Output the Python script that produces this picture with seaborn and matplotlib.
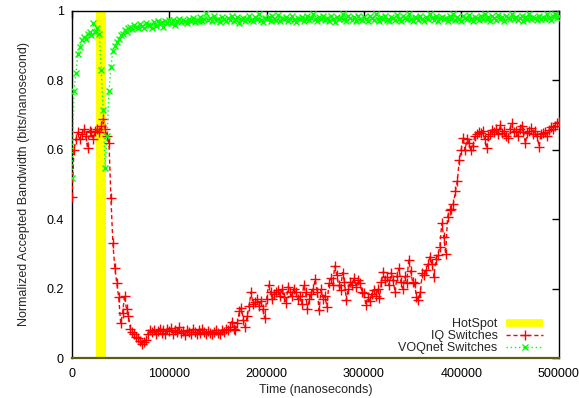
import numpy as np
import pandas as pd
import matplotlib
matplotlib.use("Agg")
import matplotlib.pyplot as plt
from matplotlib.lines import Line2D
import seaborn as sns

# Sampling times (ns)
time_ns = np.arange(0, 500001, 2000)

# Hot-spot interval (ns)
hotspot_start = 25000
hotspot_end = 35000

# Normalized accepted bandwidth, IQ switches
iq_bw = [
    0.465, 0.60, 0.63, 0.65, 0.63, 0.645, 0.66, 0.64, 0.605, 0.655,
    0.65, 0.63, 0.655, 0.66, 0.65, 0.67, 0.69, 0.66, 0.64, 0.62,
    0.46, 0.33, 0.26, 0.215, 0.175, 0.10, 0.13, 0.18, 0.14, 0.12,
    0.085, 0.075, 0.07, 0.06, 0.058, 0.05, 0.04, 0.045, 0.052, 0.07,
    0.08, 0.075, 0.082, 0.07, 0.078, 0.085, 0.072, 0.08, 0.068, 0.083,
    0.077, 0.086, 0.07, 0.08, 0.074, 0.088, 0.072, 0.078, 0.065, 0.08,
    0.076, 0.07, 0.083, 0.075, 0.068, 0.08, 0.072, 0.085, 0.074, 0.07,
    0.078, 0.072, 0.068, 0.076, 0.08, 0.073, 0.07, 0.082, 0.075, 0.085,
    0.08, 0.09, 0.105, 0.085, 0.08, 0.10, 0.135, 0.145, 0.11, 0.09,
    0.12, 0.15, 0.19, 0.155, 0.16, 0.17, 0.15, 0.165, 0.14, 0.115,
    0.17, 0.21, 0.19, 0.17, 0.185, 0.19, 0.195, 0.18, 0.20, 0.175,
    0.158, 0.205, 0.19, 0.18, 0.20, 0.19, 0.17, 0.18, 0.155, 0.21,
    0.19, 0.14, 0.17, 0.185, 0.20, 0.227, 0.19, 0.138, 0.198, 0.17,
    0.18, 0.146, 0.217, 0.23, 0.21, 0.265, 0.24, 0.21, 0.196, 0.246,
    0.22, 0.167, 0.20, 0.22, 0.21, 0.23, 0.205, 0.225, 0.215, 0.19,
    0.186, 0.153, 0.175, 0.165, 0.185, 0.196, 0.18, 0.20, 0.172, 0.22,
    0.249, 0.225, 0.234, 0.21, 0.246, 0.225, 0.19, 0.235, 0.258, 0.22,
    0.20, 0.235, 0.215, 0.282, 0.25, 0.22, 0.215, 0.177, 0.167, 0.19,
    0.244, 0.24, 0.255, 0.27, 0.292, 0.27, 0.234, 0.285, 0.297, 0.32,
    0.388, 0.35, 0.30, 0.407, 0.427, 0.43, 0.445, 0.48, 0.51, 0.57,
    0.60, 0.633, 0.60, 0.63, 0.62, 0.60, 0.61, 0.64, 0.645, 0.652,
    0.648, 0.655, 0.63, 0.604, 0.64, 0.645, 0.657, 0.65, 0.66, 0.645,
    0.671, 0.648, 0.655, 0.64, 0.633, 0.66, 0.676, 0.65, 0.655, 0.64,
    0.66, 0.67, 0.65, 0.619, 0.648, 0.655, 0.662, 0.645, 0.655, 0.64,
    0.609, 0.645, 0.648, 0.65, 0.64, 0.657, 0.667, 0.66, 0.67, 0.676,
    0.68,
]

# Normalized accepted bandwidth, VOQnet switches
voq_bw = [
    0.518, 0.77, 0.82, 0.875, 0.895, 0.915, 0.926, 0.92, 0.935, 0.94,
    0.93, 0.964, 0.94, 0.95, 0.935, 0.83, 0.715, 0.547, 0.64, 0.77,
    0.84, 0.885, 0.90, 0.912, 0.92, 0.93, 0.935, 0.945, 0.94, 0.95,
    0.955, 0.948, 0.96, 0.955, 0.95, 0.962, 0.958, 0.95, 0.965, 0.96,
    0.96, 0.952, 0.968, 0.958, 0.97, 0.962, 0.969, 0.955, 0.972, 0.965,
    0.974, 0.966, 0.975, 0.96, 0.97, 0.978, 0.968, 0.975, 0.972, 0.965,
    0.976, 0.97, 0.98, 0.968, 0.975, 0.972, 0.982, 0.97, 0.978, 0.993,
    0.975, 0.98, 0.97, 0.985, 0.975, 0.978, 0.968, 0.982, 0.976, 0.972,
    0.98, 0.975, 0.985, 0.97, 0.978, 0.982, 0.965, 0.976, 0.98, 0.972,
    0.978, 0.985, 0.975, 0.97, 0.982, 0.978, 0.99, 0.975, 0.968, 0.98,
    0.976, 0.982, 0.97, 0.985, 0.978, 0.975, 0.988, 0.972, 0.98, 0.976,
    0.982, 0.97, 0.978, 0.985, 0.975, 0.968, 0.98, 0.976, 0.983, 0.972,
    0.978, 0.985, 0.975, 0.98, 0.992, 0.976, 0.97, 0.982, 0.978, 0.985,
    0.975, 0.98, 0.972, 0.985, 0.978, 0.968, 0.982, 0.976, 0.98, 0.99,
    0.978, 0.972, 0.985, 0.98, 0.975, 0.982, 0.97, 0.986, 0.978, 0.975,
    0.982, 0.976, 0.97, 0.985, 0.98, 0.975, 0.99, 0.978, 0.972, 0.984,
    0.978, 0.985, 0.975, 0.97, 0.982, 0.98, 0.975, 0.988, 0.978, 0.972,
    0.985, 0.98, 0.976, 0.99, 0.978, 0.972, 0.984, 0.98, 0.975, 0.986,
    0.978, 0.972, 0.982, 0.976, 0.99, 0.98, 0.975, 0.985, 0.97, 0.98,
    0.984, 0.976, 0.98, 0.972, 0.985, 0.978, 0.99, 0.975, 0.982, 0.978,
    0.972, 0.985, 0.98, 0.976, 0.988, 0.978, 0.97, 0.983, 0.98, 0.975,
    0.985, 0.978, 0.992, 0.976, 0.982, 0.97, 0.985, 0.98, 0.975, 0.988,
    0.978, 0.982, 0.972, 0.985, 0.98, 0.976, 0.99, 0.978, 0.984, 0.975,
    0.98, 0.986, 0.972, 0.982, 0.978, 0.99, 0.976, 0.984, 0.98, 0.975,
    0.985, 0.978, 0.982, 0.976, 0.99, 0.98, 0.975, 0.986, 0.992, 0.98,
    0.985,
]

x_ticks = [0, 100000, 200000, 300000, 400000, 500000]
y_ticks = [0, 0.2, 0.4, 0.6, 0.8, 1]
y_tick_labels = ["0", "0.2", "0.4", "0.6", "0.8", "1"]

sns.set_style("white")
plt.rcParams["font.family"] = ["Liberation Sans", "DejaVu Sans"]
plt.rcParams["font.size"] = 9

df = pd.DataFrame({"t": time_ns, "iq": iq_bw, "voq": voq_bw})

fig = plt.figure(figsize=(5.79, 3.98), dpi=100)
ax = fig.add_axes([0.1244, 0.1005, 0.8402, 0.8719])

yellow = "#ffff00"
red = "#ff0000"
green = "#00ff00"

ax.axvspan(hotspot_start, hotspot_end, ymin=0, ymax=1, color=yellow, lw=0, zorder=1)

sns.lineplot(data=df, x="t", y="iq", ax=ax, estimator=None, color=red,
             linestyle=(0, (3, 2)), linewidth=1.0, marker="+", markersize=6.5,
             markeredgewidth=1.0, markeredgecolor=red, zorder=3)
sns.lineplot(data=df, x="t", y="voq", ax=ax, estimator=None, color=green,
             linestyle=(0, (1, 2)), linewidth=1.0, marker="x", markersize=4.5,
             markeredgewidth=1.0, markeredgecolor=green, zorder=4)

ax.set_xlim(0, 500000)
ax.set_ylim(0, 1)
ax.set_xticks(x_ticks)
ax.set_xticklabels([str(v) for v in x_ticks])
ax.set_yticks(y_ticks)
ax.set_yticklabels(y_tick_labels)
ax.tick_params(direction="in", length=5, width=1, top=True, right=True,
               labelsize=9, colors="black")
ax.tick_params(axis="x", pad=7)
ax.tick_params(axis="y", pad=6)
for side in ["top", "left", "right"]:
    ax.spines[side].set_color("black")
    ax.spines[side].set_linewidth(1.0)
ax.spines["bottom"].set_color("#5c5c14")
ax.spines["bottom"].set_linewidth(1.6)

ax.set_xlabel("Time (nanoseconds)", fontsize=9, labelpad=3)
ax.set_ylabel("Normalized Accepted Bandwidth (bits/nanosecond)", fontsize=9, labelpad=12)

handles = [
    Line2D([], [], color=yellow, linewidth=5.5, solid_capstyle="butt"),
    Line2D([], [], color=red, linestyle=(0, (3, 2)), linewidth=1.0, marker="+",
           markersize=6.5, markeredgewidth=1.0),
    Line2D([], [], color=green, linestyle=(0, (1, 2)), linewidth=1.0, marker="x",
           markersize=4.5, markeredgewidth=1.0),
]
labels = ["HotSpot", "IQ Switches", "VOQnet Switches"]
ax.legend(handles, labels, loc="lower right", bbox_to_anchor=(0.983, -0.01),
          frameon=False, markerfirst=False, handlelength=2.9,
          handletextpad=0.7, labelspacing=0.0, borderaxespad=0.2,
          fontsize=9, numpoints=1)

fig.savefig("out.png", dpi=100)
